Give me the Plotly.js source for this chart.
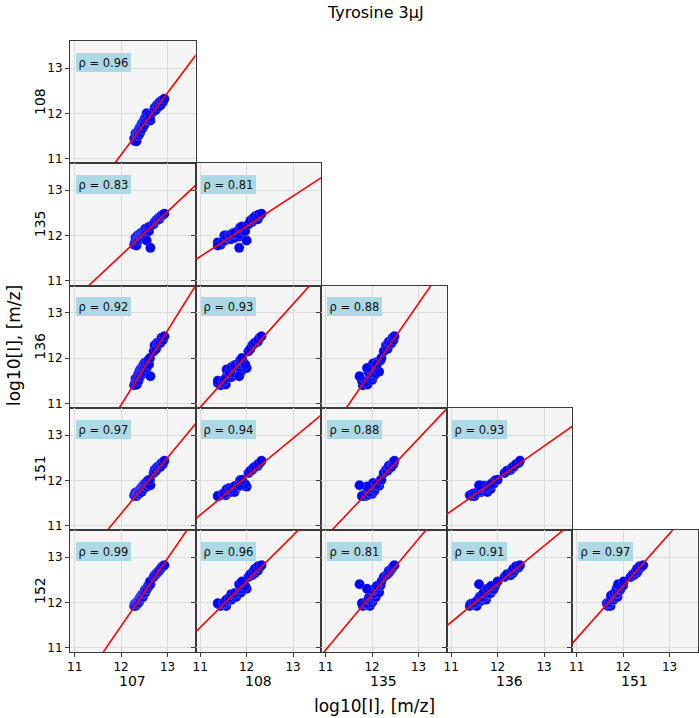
<!DOCTYPE html>
<html>
<head>
<meta charset="utf-8">
<script src="https://cdn.plot.ly/plotly-3.0.1.min.js"></script>
<style>html,body{margin:0;padding:0;background:#fff}#chart{width:699px;height:718px}</style>
</head>
<body>
<div id="chart"></div>
<script>
// ---- data (log10 intensities per m/z, one value per sample) ----
const mz107 = [12.28,12.30,12.31,12.33,12.34,12.35,12.36,12.37,12.38,12.39,12.40,12.41,12.42,12.43,12.44,12.45,12.46,12.47,12.48,12.49,12.50,12.51,12.52,12.53,12.55,12.56,12.58,12.60,12.63,12.62,
               12.70,12.72,12.75,12.77,12.80,12.82,12.85,12.87,12.90,12.93];
const mz108 = [11.44,11.38,11.56,11.38,11.55,11.57,11.50,11.60,11.52,11.67,11.67,11.57,11.70,11.63,11.74,11.78,11.67,11.77,11.75,11.84,11.74,11.89,11.88,11.86,12.00,11.92,11.86,11.97,11.84,11.90,
               12.04,12.12,12.08,12.18,12.14,12.24,12.18,12.28,12.25,12.32];
const mz135 = [11.80,11.85,11.95,11.78,11.90,12.00,11.88,11.95,12.00,11.92,12.02,11.98,12.05,12.00,11.95,12.03,12.02,12.08,12.05,11.98,12.05,12.08,12.15,12.02,11.89,12.12,12.18,12.10,11.73,12.20,
               12.25,12.30,12.33,12.35,12.38,12.36,12.42,12.44,12.46,12.48];
const mz136 = [11.40,11.45,11.55,11.50,11.42,11.60,11.48,11.65,11.52,11.70,11.58,11.75,11.62,11.68,11.78,11.72,11.80,11.66,11.85,11.76,11.82,11.90,11.70,11.88,11.78,11.92,11.95,11.86,11.60,12.00,
               12.15,12.28,12.20,12.33,12.30,12.36,12.34,12.45,12.40,12.48];
const mz151 = [11.67,11.65,11.73,11.65,11.67,11.73,11.71,11.74,11.70,11.78,11.74,11.80,11.77,11.83,11.74,11.84,11.81,11.88,11.81,11.88,11.87,11.92,11.88,11.94,11.86,11.93,12.00,11.91,11.89,12.01,
               12.16,12.23,12.21,12.29,12.27,12.32,12.30,12.38,12.36,12.43];
const mz152 = [11.92,11.97,11.92,11.98,11.96,12.01,11.98,12.04,12.00,12.08,12.06,12.06,12.13,12.10,12.15,12.13,12.18,12.12,12.20,12.20,12.20,12.27,12.22,12.28,12.30,12.30,12.37,12.36,12.40,12.46,
               12.56,12.60,12.62,12.65,12.68,12.70,12.74,12.77,12.80,12.82];

const colNames = ["107","108","135","136","151"];
const rowNames = ["108","135","136","151","152"];
const series = {"107":mz107,"108":mz108,"135":mz135,"136":mz136,"151":mz151,"152":mz152};
// Pearson rho shown in each panel, row by row
const rhoLabels = [
  ["0.96"],
  ["0.83","0.81"],
  ["0.92","0.93","0.88"],
  ["0.97","0.94","0.88","0.93"],
  ["0.99","0.96","0.81","0.91","0.97"]
];
const tickVals = [11,12,13];
const axisRange = [10.9,13.6];

// ---- layout geometry ----
const W = 699, H = 718;
const colEdges = [70,195.5,321,446.5,572,697.5];
const rowEdges = [41,163,285.5,408,530,652];
const FONT = "DejaVu Sans, Liberation Sans, sans-serif";

function ols(x,y){
  const n=x.length; let mx=0,my=0;
  for(let i=0;i<n;i++){mx+=x[i];my+=y[i];}
  mx/=n; my/=n;
  let sxy=0,sxx=0;
  for(let i=0;i<n;i++){sxy+=(x[i]-mx)*(y[i]-my);sxx+=(x[i]-mx)*(x[i]-mx);}
  const b=sxy/sxx; return {b:b,a:my-b*mx};
}

const traces=[], annotations=[];
const layout = {
  width:W, height:H,
  margin:{l:0,r:0,t:0,b:0},
  paper_bgcolor:"#ffffff",
  plot_bgcolor:"#f5f5f5",
  showlegend:false,
  font:{family:FONT,color:"#000"},
  annotations:annotations
};

let k=0;
for(let r=0;r<5;r++){
  for(let c=0;c<=r;c++){
    k++;
    const sx = k===1?"":String(k);
    const xs = series[colNames[c]], ys = series[rowNames[r]];
    traces.push({
      type:"scatter", mode:"markers", x:xs, y:ys,
      xaxis:"x"+sx, yaxis:"y"+sx,
      marker:{color:"#0000ff", size:10, line:{color:"rgba(255,255,255,0.35)", width:0.5}},
      hoverinfo:"skip"
    });
    const fit = ols(xs,ys);
    const lx=[axisRange[0]-1, axisRange[1]+1];
    traces.push({
      type:"scatter", mode:"lines", x:lx, y:lx.map(v=>fit.a+fit.b*v),
      xaxis:"x"+sx, yaxis:"y"+sx,
      line:{color:"#ff0000", width:1.6}, hoverinfo:"skip"
    });
    const common = {
      range:axisRange, tickvals:tickVals, showgrid:true, gridcolor:"#dcdcdc", gridwidth:1,
      zeroline:false, showline:true, mirror:true, linecolor:"#3a3a3a", linewidth:1,
      tickfont:{size:12,color:"#000",family:FONT}, ticklen:4, tickcolor:"#3a3a3a", fixedrange:true
    };
    layout["xaxis"+sx] = Object.assign({}, common, {
      domain:[colEdges[c]/W, colEdges[c+1]/W], anchor:"y"+sx,
      ticks: r===4?"outside":"", showticklabels: r===4
    });
    layout["yaxis"+sx] = Object.assign({}, common, {
      domain:[1-rowEdges[r+1]/H, 1-rowEdges[r]/H], anchor:"x"+sx,
      ticks:"outside", showticklabels: c===0
    });
    annotations.push({
      xref:"x"+sx+" domain", yref:"y"+sx+" domain", x:0.045, y:0.905,
      xanchor:"left", yanchor:"top", showarrow:false,
      text:"ρ = "+rhoLabels[r][c], font:{size:11.5,color:"#111",family:FONT},
      bgcolor:"#add8e6", borderpad:2.5, bordercolor:"#add8e6", borderwidth:0
    });
  }
}
// row titles
for(let r=0;r<5;r++){
  annotations.push({xref:"paper",yref:"paper",x:40/W,y:1-((rowEdges[r]+rowEdges[r+1])/2)/H,
    text:rowNames[r],textangle:-90,showarrow:false,xanchor:"center",yanchor:"middle",
    font:{size:14,color:"#000",family:FONT}});
}
// column titles
for(let c=0;c<5;c++){
  annotations.push({xref:"paper",yref:"paper",x:((colEdges[c]+colEdges[c+1])/2)/W,y:1-681/H,
    text:colNames[c],showarrow:false,xanchor:"center",yanchor:"middle",
    font:{size:14,color:"#000",family:FONT}});
}
annotations.push({xref:"paper",yref:"paper",x:374/W,y:1-706/H,text:"log10[I], [m/z]",showarrow:false,
  xanchor:"center",yanchor:"middle",font:{size:17,color:"#000",family:FONT}});
annotations.push({xref:"paper",yref:"paper",x:14/W,y:1-346/H,text:"log10[I], [m/z]",showarrow:false,textangle:-90,
  xanchor:"center",yanchor:"middle",font:{size:17,color:"#000",family:FONT}});
annotations.push({xref:"paper",yref:"paper",x:375/W,y:1-13/H,text:"Tyrosine 3μJ",showarrow:false,
  xanchor:"center",yanchor:"middle",font:{size:16,color:"#000",family:FONT}});

Plotly.newPlot("chart", traces, layout, {displayModeBar:false, staticPlot:true});
</script>
</body>
</html>
